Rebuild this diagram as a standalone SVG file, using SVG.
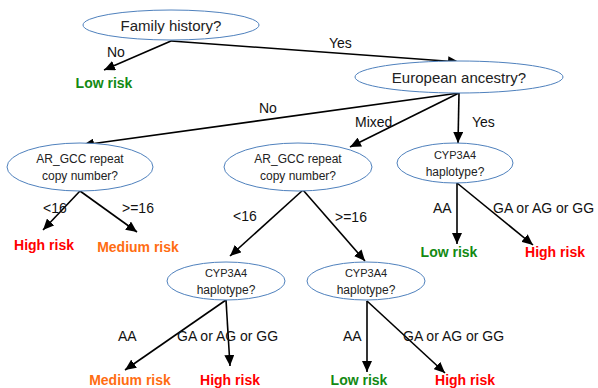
<svg xmlns="http://www.w3.org/2000/svg" width="598" height="388" viewBox="0 0 598 388">
<defs>
<marker id="ah" markerUnits="userSpaceOnUse" markerWidth="12" markerHeight="10" refX="11" refY="5" orient="auto">
<path d="M0,0 L11,5 L0,10 Z" fill="#000"/>
</marker>
<style>
.node ellipse{fill:#fff;stroke:#4f81bd;stroke-width:1}
.nt{font-family:"Liberation Sans",Arial,sans-serif;fill:#222;text-anchor:middle}
.lbl{font-family:"Liberation Sans",Arial,sans-serif;font-size:14px;fill:#111}
.edges line{stroke:#000;stroke-width:1.6;marker-end:url(#ah)}
.leaf{font-family:"Liberation Sans",Arial,sans-serif;font-size:14px;font-weight:bold;text-anchor:middle}
.low{fill:#138a13}.high{fill:#ff0000}.med{fill:#ff6d12}
</style>
</defs>
<rect width="598" height="388" fill="#fff"/>
<g id="edges" class="edges">
<line x1="171" y1="41" x2="104" y2="70"/>
<line x1="171" y1="41" x2="459" y2="62"/>
<line x1="459" y1="93" x2="83" y2="145"/>
<line x1="459" y1="93" x2="350" y2="147"/>
<line x1="459" y1="93" x2="458" y2="143"/>
<line x1="80" y1="191" x2="43" y2="230"/>
<line x1="80" y1="191" x2="137" y2="232"/>
<line x1="303" y1="190" x2="230" y2="256"/>
<line x1="303" y1="190" x2="365" y2="261"/>
<line x1="457" y1="183" x2="457" y2="244"/>
<line x1="457" y1="183" x2="533" y2="245"/>
<line x1="226" y1="300" x2="125" y2="370"/>
<line x1="226" y1="300" x2="230" y2="366"/>
<line x1="367" y1="301" x2="367" y2="372"/>
<line x1="367" y1="301" x2="445" y2="373"/>
</g>
<g id="edge-labels">
<text class="lbl" x="107" y="57">No</text>
<text class="lbl" x="329" y="48">Yes</text>
<text class="lbl" x="259" y="113">No</text>
<text class="lbl" x="355" y="127">Mixed</text>
<text class="lbl" x="472" y="127">Yes</text>
<text class="lbl" x="43" y="213">&lt;16</text>
<text class="lbl" x="122" y="213">&gt;=16</text>
<text class="lbl" x="233" y="221">&lt;16</text>
<text class="lbl" x="335" y="222">&gt;=16</text>
<text class="lbl" x="433" y="213">AA</text>
<text class="lbl" x="493" y="213">GA or AG or GG</text>
<text class="lbl" x="118" y="341">AA</text>
<text class="lbl" x="177" y="341">GA or AG or GG</text>
<text class="lbl" x="343" y="341">AA</text>
<text class="lbl" x="403" y="341">GA or AG or GG</text>
</g>
<g id="n-family" class="node">
<ellipse cx="171" cy="25" rx="88" ry="15"/>
<text class="nt" x="171" y="31" font-size="15">Family history?</text>
</g>
<g id="n-european" class="node">
<ellipse cx="459" cy="77" rx="104" ry="16"/>
<text class="nt" x="459" y="83" font-size="15">European ancestry?</text>
</g>
<g id="n-ar-left" class="node">
<ellipse cx="80" cy="167" rx="73" ry="24"/>
<text class="nt" x="80" y="163" font-size="12">AR_GCC repeat</text>
<text class="nt" x="80" y="180" font-size="12">copy number?</text>
</g>
<g id="n-ar-mid" class="node">
<ellipse cx="298" cy="167" rx="74" ry="24"/>
<text class="nt" x="298" y="163" font-size="12">AR_GCC repeat</text>
<text class="nt" x="298" y="180" font-size="12">copy number?</text>
</g>
<g id="n-cyp-right" class="node">
<ellipse cx="455" cy="163" rx="58" ry="20"/>
<text class="nt" x="455" y="159" font-size="11">CYP3A4</text>
<text class="nt" x="455" y="176" font-size="12">haplotype?</text>
</g>
<g id="n-cyp-bl" class="node">
<ellipse cx="226" cy="281" rx="59" ry="19"/>
<text class="nt" x="226" y="277" font-size="11">CYP3A4</text>
<text class="nt" x="226" y="294" font-size="12">haplotype?</text>
</g>
<g id="n-cyp-br" class="node">
<ellipse cx="366" cy="281" rx="59" ry="19"/>
<text class="nt" x="366" y="277" font-size="11">CYP3A4</text>
<text class="nt" x="366" y="294" font-size="12">haplotype?</text>
</g>
<g id="leaf-low1"><text class="leaf low" x="104" y="88">Low risk</text></g>
<g id="leaf-high1"><text class="leaf high" x="44" y="250">High risk</text></g>
<g id="leaf-med1"><text class="leaf med" x="138" y="252">Medium risk</text></g>
<g id="leaf-low2"><text class="leaf low" x="449" y="257">Low risk</text></g>
<g id="leaf-high2"><text class="leaf high" x="555" y="257">High risk</text></g>
<g id="leaf-med2"><text class="leaf med" x="130" y="385">Medium risk</text></g>
<g id="leaf-high3"><text class="leaf high" x="230" y="385">High risk</text></g>
<g id="leaf-low3"><text class="leaf low" x="359" y="385">Low risk</text></g>
<g id="leaf-high4"><text class="leaf high" x="465" y="385">High risk</text></g>
</svg>
